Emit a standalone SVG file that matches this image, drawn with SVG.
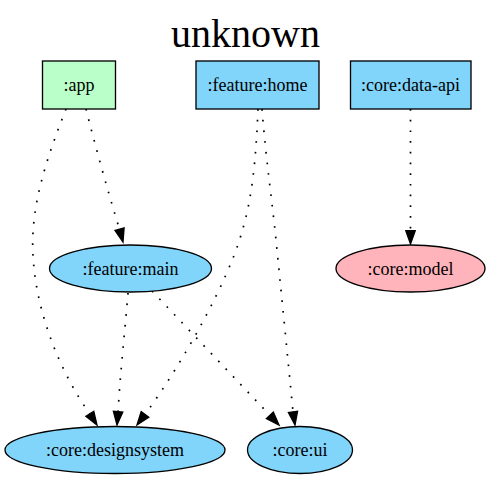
<svg xmlns="http://www.w3.org/2000/svg" width="490" height="480" viewBox="0 0 490 480">
<style>
text{font-family:"Liberation Serif","Times New Roman",serif;fill:#000;text-anchor:middle}
.t{font-size:18px}
.title{font-size:40px}
.n{stroke:#000;stroke-width:1.33}
.e{fill:none;stroke:#000;stroke-width:1.7;stroke-dasharray:1.7,9}
.a{fill:#000;stroke:#000;stroke-width:1.33}
</style>
<rect width="490" height="480" fill="#fff"/>
<text class="title" x="245.5" y="47">unknown</text>
<g id="connectors">
<path class="e" d="M86,109 C95,145 108,192 119.5,229.2"/>
<polygon class="a" points="124.1,228 123,242 115,230.4"/>
<path class="e" d="M66,109 C48,155 30,205 33,255 C36,315 62,375 89.8,413.8"/>
<polygon class="a" points="93.8,411.3 97,425 85.9,416.3"/>
<path class="e" d="M128,293 C125,330 120,375 118.1,411.7"/>
<polygon class="a" points="122.8,412.1 117,425 113.4,411.3"/>
<path class="e" d="M258,109 C256,160 252,200 241,235 C228,280 185,360 145,414.4"/>
<polygon class="a" points="148.8,417.2 137,425 141.2,411.6"/>
<path class="e" d="M262,109 C266,160 272,200 276,240 C281,290 288,360 293,411.9"/>
<polygon class="a" points="297.6,411.2 295,425 288.4,412.6"/>
<path class="e" d="M152,291 L269.9,415.3"/>
<polygon class="a" points="273.3,412.1 279,425 266.4,418.6"/>
<path class="e" d="M410.5,109 L410.5,230.7"/>
<polygon class="a" points="415.2,230.7 410.5,244 405.8,230.7"/>
</g>
<g id="app">
<rect class="n" x="42.5" y="61" width="73" height="48" fill="#baffc9"/>
<text class="t" x="79" y="91">:app</text>
</g>
<g id="feature-home">
<rect class="n" x="196" y="61" width="123" height="48" fill="#81d4fa"/>
<text class="t" x="257.5" y="91">:feature:home</text>
</g>
<g id="core-data-api">
<rect class="n" x="350.5" y="61" width="120.5" height="48" fill="#81d4fa"/>
<text class="t" x="410.5" y="91">:core:data-api</text>
</g>
<g id="feature-main">
<ellipse class="n" cx="130.5" cy="268.5" rx="81" ry="23.5" fill="#81d4fa"/>
<text class="t" x="130.5" y="274.5">:feature:main</text>
</g>
<g id="core-model">
<ellipse class="n" cx="410.5" cy="268.5" rx="74.5" ry="23.5" fill="#ffb3ba"/>
<text class="t" x="410.5" y="274.5">:core:model</text>
</g>
<g id="core-designsystem">
<ellipse class="n" cx="115" cy="450" rx="110" ry="23.5" fill="#81d4fa"/>
<text class="t" x="115" y="456">:core:designsystem</text>
</g>
<g id="core-ui">
<ellipse class="n" cx="300" cy="450" rx="52.5" ry="23.5" fill="#81d4fa"/>
<text class="t" x="300" y="456">:core:ui</text>
</g>
</svg>
